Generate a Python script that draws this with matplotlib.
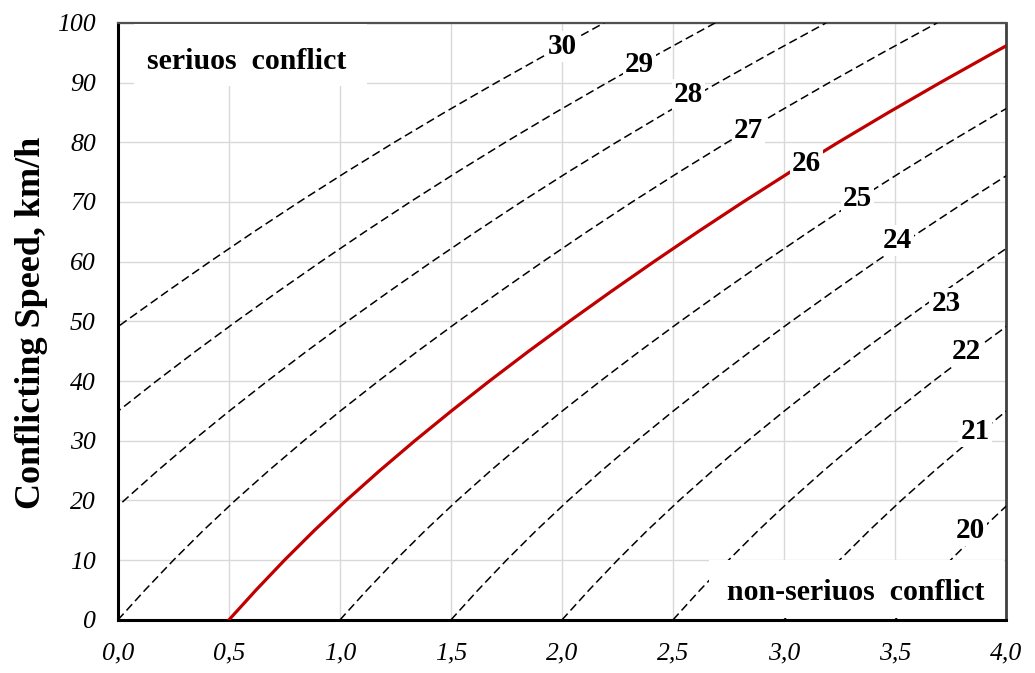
import matplotlib
matplotlib.use("Agg")
import matplotlib.pyplot as plt
from matplotlib.patches import Rectangle

plt.rcParams['font.family'] = ['Liberation Serif', 'DejaVu Serif']

speed = [0, 5, 10, 15, 20, 25, 30, 35, 40, 45, 50,
         55, 60, 65, 70, 75, 80, 85, 90, 95, 100]

# x position of each line at the speeds above
line_30 = [-1.500, -1.378, -1.250, -1.115, -0.972, -0.821, -0.663, -0.498, -0.327, -0.150, 0.033,
           0.221, 0.414, 0.612, 0.816, 1.027, 1.245, 1.471, 1.704, 1.944, 2.190]
line_29 = [-1.000, -0.878, -0.750, -0.615, -0.472, -0.321, -0.163, 0.002, 0.173, 0.350, 0.533,
           0.721, 0.914, 1.112, 1.316, 1.527, 1.745, 1.971, 2.204, 2.444, 2.690]
line_28 = [-0.500, -0.378, -0.250, -0.115, 0.028, 0.179, 0.337, 0.502, 0.673, 0.850, 1.033,
           1.221, 1.414, 1.612, 1.816, 2.027, 2.245, 2.471, 2.704, 2.944, 3.190]
line_27 = [0.000, 0.122, 0.250, 0.385, 0.528, 0.679, 0.837, 1.002, 1.173, 1.350, 1.533,
           1.721, 1.914, 2.112, 2.316, 2.527, 2.745, 2.971, 3.204, 3.444, 3.690]
line_26 = [0.500, 0.622, 0.750, 0.885, 1.028, 1.179, 1.337, 1.502, 1.673, 1.850, 2.033,
           2.221, 2.414, 2.612, 2.816, 3.027, 3.245, 3.471, 3.704, 3.944, 4.190]
line_25 = [1.000, 1.122, 1.250, 1.385, 1.528, 1.679, 1.837, 2.002, 2.173, 2.350, 2.533,
           2.721, 2.914, 3.112, 3.316, 3.527, 3.745, 3.971, 4.204, 4.444, 4.690]
line_24 = [1.500, 1.622, 1.750, 1.885, 2.028, 2.179, 2.337, 2.502, 2.673, 2.850, 3.033,
           3.221, 3.414, 3.612, 3.816, 4.027, 4.245, 4.471, 4.704, 4.944, 5.190]
line_23 = [2.000, 2.122, 2.250, 2.385, 2.528, 2.679, 2.837, 3.002, 3.173, 3.350, 3.533,
           3.721, 3.914, 4.112, 4.316, 4.527, 4.745, 4.971, 5.204, 5.444, 5.690]
line_22 = [2.500, 2.622, 2.750, 2.885, 3.028, 3.179, 3.337, 3.502, 3.673, 3.850, 4.033,
           4.221, 4.414, 4.612, 4.816, 5.027, 5.245, 5.471, 5.704, 5.944, 6.190]
line_21 = [3.000, 3.122, 3.250, 3.385, 3.528, 3.679, 3.837, 4.002, 4.173, 4.350, 4.533,
           4.721, 4.914, 5.112, 5.316, 5.527, 5.745, 5.971, 6.204, 6.444, 6.690]
line_20 = [3.500, 3.622, 3.750, 3.885, 4.028, 4.179, 4.337, 4.502, 4.673, 4.850, 5.033,
           5.221, 5.414, 5.612, 5.816, 6.027, 6.245, 6.471, 6.704, 6.944, 7.190]

levels = [30, 29, 28, 27, 26, 25, 24, 23, 22, 21, 20]
lines = [line_30, line_29, line_28, line_27, line_26, line_25,
         line_24, line_23, line_22, line_21, line_20]

# where the level numbers sit on the chart
label_x = [2.00, 2.35, 2.57, 2.84, 3.10, 3.33, 3.51, 3.73, 3.82, 3.86, 3.84]
label_y = [96.0, 93.0, 88.0, 82.0, 76.5, 70.5, 63.6, 53.0, 44.9, 31.5, 15.0]

x_ticks = [0.0, 0.5, 1.0, 1.5, 2.0, 2.5, 3.0, 3.5, 4.0]
x_tick_labels = ['0,0', '0,5', '1,0', '1,5', '2,0', '2,5', '3,0', '3,5', '4,0']
y_ticks = [0, 10, 20, 30, 40, 50, 60, 70, 80, 90, 100]

fig = plt.figure(figsize=(10.35, 6.73), dpi=100)
ax = fig.add_axes([0.114, 0.079, 0.858, 0.887])

for lev, xs in zip(levels, lines):
    if lev == 26:
        ax.plot(xs, speed, color='#c00000', lw=2.3, zorder=3)
    else:
        ax.plot(xs, speed, color='black', lw=1.1, dashes=(5.5, 2.8), zorder=3)

for lev, lx, ly in zip(levels, label_x, label_y):
    ax.text(lx, ly, str(lev), ha='center', va='center', fontsize=21,
            fontweight='bold', zorder=5,
            bbox=dict(facecolor='white', edgecolor='none', pad=1.5))

# white boxes behind the region texts
ax.add_patch(Rectangle((0.07, 89.5), 1.05, 10.3, facecolor='white',
                       edgecolor='none', zorder=4))
ax.add_patch(Rectangle((2.66, 0.3), 1.33, 9.7, facecolor='white',
                       edgecolor='none', zorder=4))
ax.text(0.13, 93.5, 'seriuos  conflict', ha='left', va='center',
        fontsize=21.5, fontweight='bold', zorder=5)
ax.text(3.905, 4.5, 'non-seriuos  conflict', ha='right', va='center',
        fontsize=21.5, fontweight='bold', zorder=5)

ax.set_xlim(0, 4.0)
ax.set_ylim(0, 100)
ax.set_xticks(x_ticks)
ax.set_xticklabels(x_tick_labels)
ax.set_yticks(y_ticks)
ax.grid(True, color='#d9d9d9', lw=1.0, zorder=0)
ax.set_axisbelow(True)
ax.tick_params(length=0, pad=16, labelsize=18.5)
for lab in ax.get_xticklabels() + ax.get_yticklabels():
    lab.set_fontstyle('italic')

ax.spines['left'].set_linewidth(2.2)
ax.spines['bottom'].set_linewidth(2.2)
ax.spines['top'].set_linewidth(1.6)
ax.spines['right'].set_linewidth(2.0)
ax.spines['top'].set_color('#505050')
ax.spines['right'].set_color('#404040')

fig.text(0.030, 0.52, 'Conflicting Speed, km/h', rotation=90, ha='center',
         va='center', fontsize=26, fontweight='bold')

fig.savefig('out.png', dpi=100)
